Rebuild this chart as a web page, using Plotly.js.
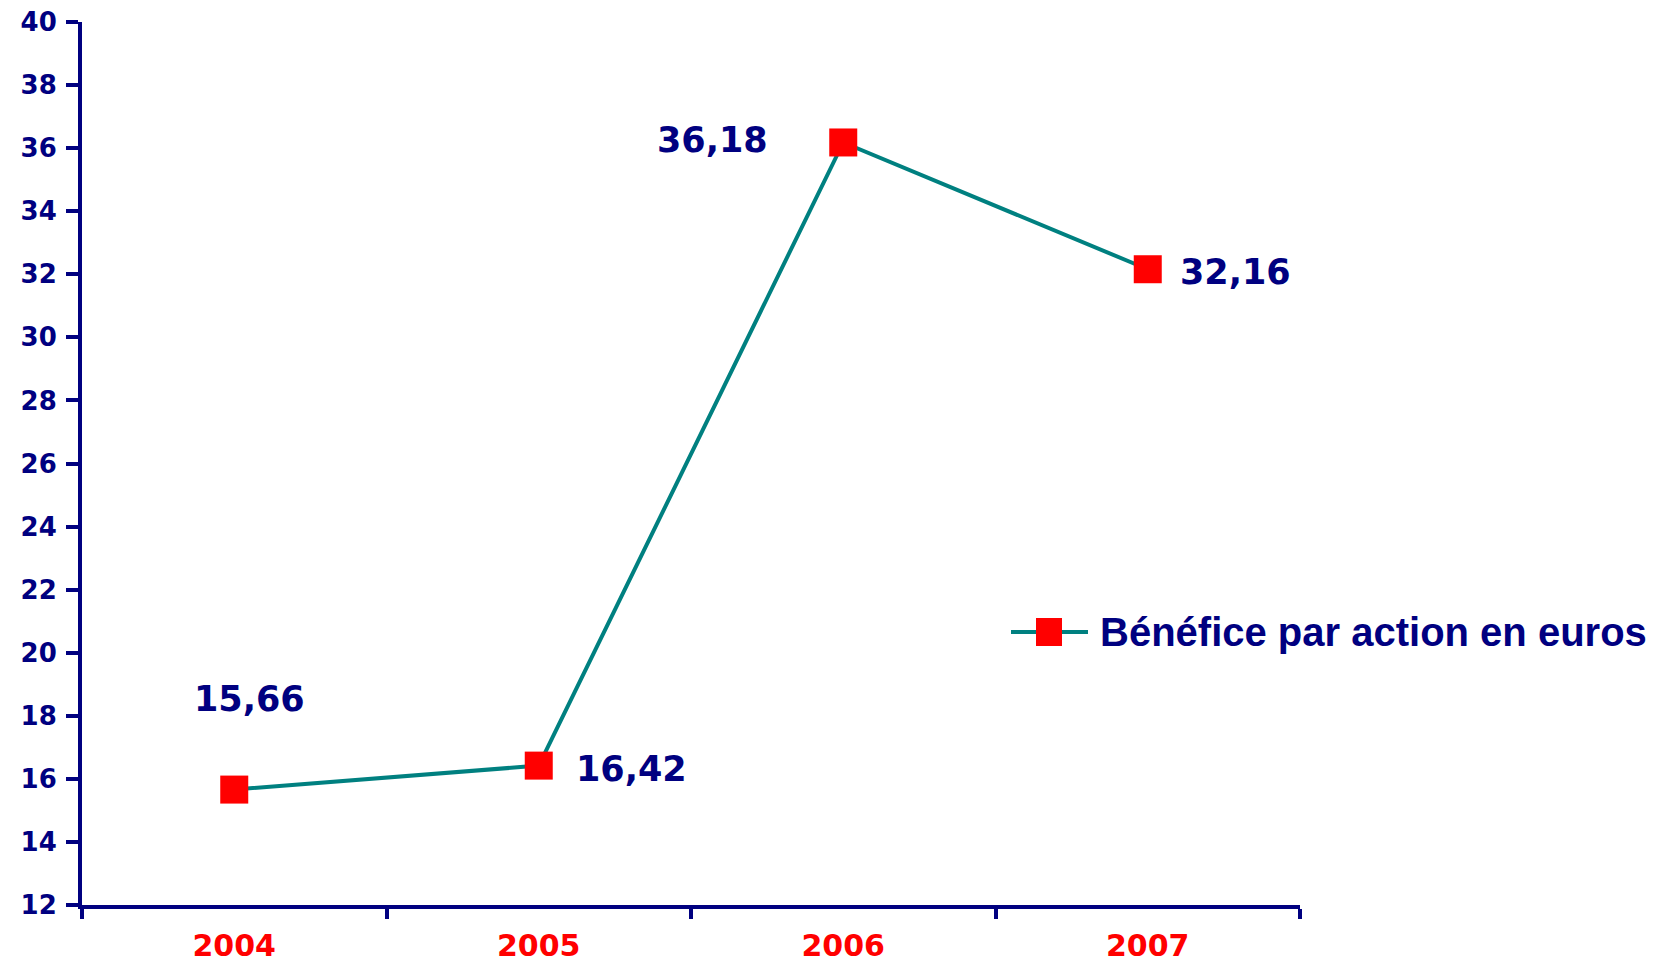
<!DOCTYPE html>
<html>
<head>
<meta charset="utf-8">
<script src="https://cdn.plot.ly/plotly-3.0.1.min.js"></script>
<style>html,body{margin:0;padding:0;background:#fff;}#chart{width:1660px;height:968px;}</style>
</head>
<body>
<div id="chart"></div>
<script>
const years = ['2004', '2005', '2006', '2007'];
const values = [15.66, 16.42, 36.18, 32.16];
const valueLabels = ['15,66', '16,42', '36,18', '32,16'];
const seriesName = 'Bénéfice par action en euros';

const NAVY = '#000080';
const TEAL = '#008080';
const RED = '#FF0000';
const labelFont = {family: 'DejaVu Sans', size: 35, color: NAVY, weight: 'bold'};

const M = {l: 82, r: 360, t: 22, b: 63};
const W = 1660, H = 968;
const pw = W - M.l - M.r, ph = H - M.t - M.b;
const px = v => (v - M.l) / pw;
const py = v => (H - M.b - v) / ph;

const labelOffsets = [
  {xanchor: 'center', xshift: 15, yshift: 91},
  {xanchor: 'left', xshift: 35, yshift: -3},
  {xanchor: 'right', xshift: -73, yshift: 2},
  {xanchor: 'left', xshift: 30, yshift: -3}
];

const annotations = years.map((y, i) => Object.assign({
  x: i, y: values[i], xref: 'x', yref: 'y',
  text: valueLabels[i], showarrow: false,
  yanchor: 'middle', font: Object.assign({}, labelFont)
}, labelOffsets[i]));

// custom legend (longer line sample than Plotly's built-in legend allows)
const legY = 632;
annotations.push({
  xref: 'paper', yref: 'paper', x: px(1098), y: py(legY),
  xanchor: 'left', yanchor: 'middle', showarrow: false,
  text: seriesName,
  font: {family: 'Liberation Sans, Arial', size: 40, color: NAVY, weight: 'bold'}
});
const shapes = [
  {type: 'line', xref: 'paper', yref: 'paper', x0: px(1011), x1: px(1088), y0: py(legY), y1: py(legY),
   line: {color: TEAL, width: 4}},
  {type: 'rect', xref: 'paper', yref: 'paper', x0: px(1036), x1: px(1062), y0: py(legY - 14), y1: py(legY + 14),
   fillcolor: RED, line: {width: 0}}
];

const trace = {
  x: years, y: values, name: seriesName,
  type: 'scatter', mode: 'lines+markers',
  line: {color: TEAL, width: 4},
  marker: {symbol: 'square', size: 28, color: RED},
  cliponaxis: false, showlegend: false
};

const layout = {
  width: W, height: H,
  margin: M,
  paper_bgcolor: '#fff', plot_bgcolor: '#fff',
  showlegend: false,
  xaxis: {
    type: 'category', range: [-0.5, 3.5],
    showline: true, linecolor: NAVY, linewidth: 4,
    ticks: 'outside', tickson: 'boundaries', ticklen: 10, tickwidth: 4, tickcolor: NAVY,
    showgrid: false, zeroline: false,
    tickfont: {family: 'DejaVu Sans', size: 30, color: RED, weight: 'bold'},
    ticklabelstandoff: 11
  },
  yaxis: {
    range: [12, 40], dtick: 2, tick0: 12,
    showline: true, linecolor: NAVY, linewidth: 4,
    ticks: 'outside', ticklen: 12, tickwidth: 4, tickcolor: NAVY,
    showgrid: false, zeroline: false,
    tickfont: {family: 'DejaVu Sans', size: 26, color: NAVY, weight: 'bold'},
    ticklabelstandoff: 4
  },
  shapes: shapes,
  annotations: annotations
};

Plotly.newPlot('chart', [trace], layout, {displayModeBar: false});
</script>
</body>
</html>
